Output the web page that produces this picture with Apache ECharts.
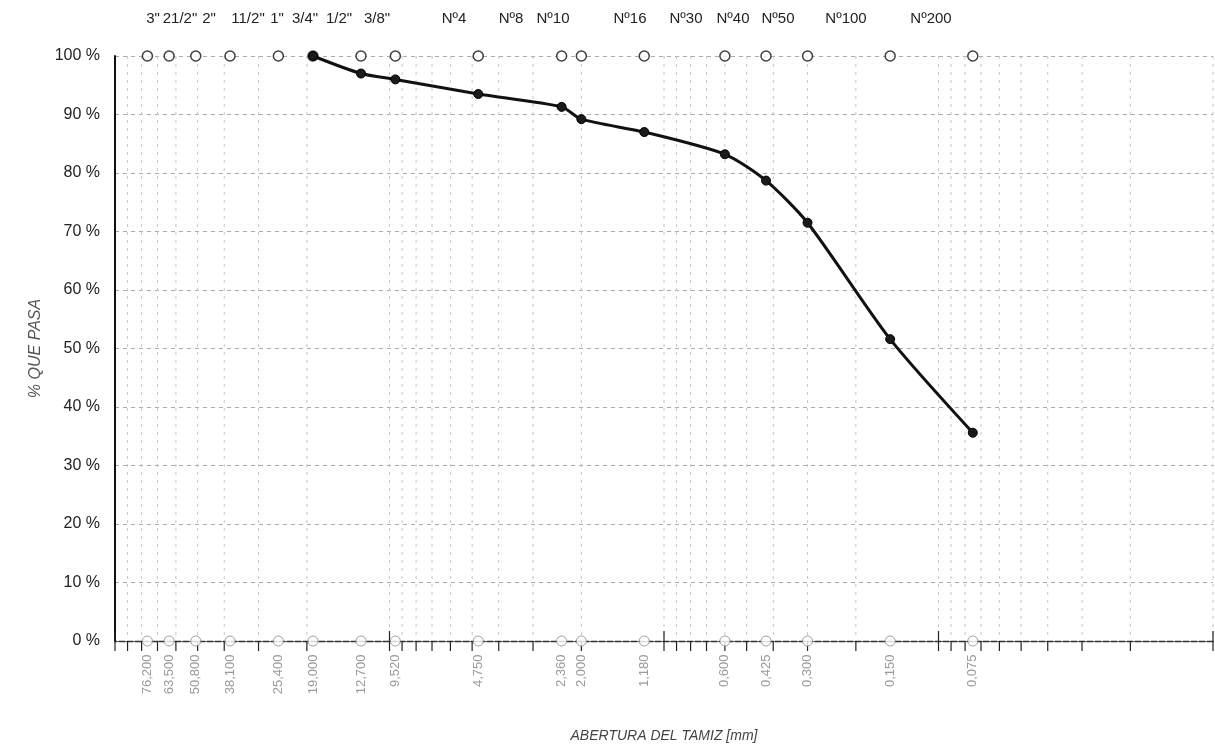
<!DOCTYPE html>
<html><head><meta charset="utf-8">
<script src="https://cdn.jsdelivr.net/npm/echarts@6/dist/echarts.min.js"></script>
<style>html,body{margin:0;padding:0;background:#fff}#c{width:1215px;height:748px}</style>
</head><body><div id="c"></div>
<script>
// ---- data ----
const sieveNames = ['3"','21/2"','2"','11/2"','1"','3/4"','1/2"','3/8"','Nº4','Nº8','Nº10','Nº16','Nº30','Nº40','Nº50','Nº100','Nº200'];
const sieveMm = [76.2,63.5,50.8,38.1,25.4,19.0,12.7,9.52,4.75,2.36,2.0,1.18,0.6,0.425,0.3,0.15,0.075];
const sieveLabels = ['76,200','63,500','50,800','38,100','25,400','19,000','12,700','9,520','4,750','2,360','2,000','1,180','0,600','0,425','0,300','0,150','0,075'];
const passMm = [19.0,12.7,9.52,4.75,2.36,2.0,1.18,0.6,0.425,0.3,0.15,0.075];
const passPct = [100,97.0,96.0,93.5,91.3,89.2,87.0,83.2,78.7,71.5,51.6,35.6];
const gridMm = [100,90,80,70,60,50,40,30,20,10,9,8,7,6,5,4,3,2,1,0.9,0.8,0.7,0.6,0.5,0.4,0.3,0.2,0.1,0.09,0.08,0.07,0.06,0.05,0.04,0.03,0.02,0.01];
const decadeMm = [100,10,1,0.1,0.01];
// header text layout (pixel centres of the sieve-name header row)
const headerX = [153,180,209,248,277,305,339,377,454,511,553,630,686,733,778,846,931];

const FONT = '"Liberation Sans", Arial, sans-serif';
const chart = echarts.init(document.getElementById('c'), null, {renderer:'canvas'});

const option = {
  animation: false,
  backgroundColor: '#fff',
  textStyle: {fontFamily: FONT},
  grid: {left: 115, right: 2, top: 56, bottom: 107, containLabel: false},
  xAxis: {
    type: 'log', logBase: 10, min: 0.01, max: 100, inverse: true,
    name: 'ABERTURA DEL TAMIZ [mm]', nameLocation: 'middle', nameGap: 88,
    nameTextStyle: {fontStyle: 'italic', fontSize: 14, color: '#444', fontFamily: FONT},
    axisLine: {onZero: false, lineStyle: {color: '#333', width: 1.3, type: [6, 2]}},
    axisTick: {show: false}, axisLabel: {show: false}, splitLine: {show: false}
  },
  yAxis: {
    type: 'value', min: 0, max: 100, interval: 10,
    name: '% QUE PASA', nameLocation: 'middle', nameGap: 66,
    nameTextStyle: {fontStyle: 'italic', fontSize: 16, color: '#555', fontFamily: FONT},
    axisLine: {show: true, onZero: false, lineStyle: {color: '#111', width: 2}},
    axisTick: {show: false},
    axisLabel: {formatter: '{value} %', fontSize: 16, color: '#222', margin: 15, fontFamily: FONT},
    splitLine: {show: true, lineStyle: {color: '#ababab', width: 1, type: [4, 4]}}
  },
  graphic: sieveNames.map((t, i) => ({
    type: 'text', x: headerX[i], y: 19,
    style: {text: t, fill: '#222', font: '15px ' + FONT, align: 'center', verticalAlign: 'middle'}
  })),
  series: [
    {
      type: 'custom', silent: true, clip: false, z: 1,
      data: gridMm.map(v => [v, 0]),
      renderItem: function (params, api) {
        const x = api.value(0);
        const top = api.coord([x, 100]);
        const bot = api.coord([x, 0]);
        const major = decadeMm.indexOf(x) >= 0;
        const ch = [];
        if (x !== 100) {
          ch.push({type: 'line', shape: {x1: top[0], y1: top[1], x2: bot[0], y2: bot[1]},
            style: {stroke: '#c6c6c6', lineWidth: 1, lineDash: [3, 5]}});
        }
        ch.push({type: 'line', shape: {x1: bot[0], y1: bot[1] - (major ? 10 : 0), x2: bot[0], y2: bot[1] + 10},
          style: {stroke: '#222', lineWidth: 1.2}});
        return {type: 'group', children: ch};
      }
    },
    {
      type: 'scatter', clip: false, z: 3, silent: true,
      data: sieveMm.map(v => [v, 100]),
      symbol: 'circle', symbolSize: 10,
      itemStyle: {color: '#fff', borderColor: '#111', borderWidth: 1.5}
    },
    {
      type: 'scatter', clip: false, z: 3, silent: true,
      data: sieveMm.map(v => [v, 0]),
      symbol: 'circle', symbolSize: 10,
      itemStyle: {color: '#fff', borderColor: '#888', borderWidth: 1},
      label: {
        show: true, position: 'bottom', distance: 8, rotate: 90,
        align: 'right', verticalAlign: 'middle',
        formatter: p => sieveLabels[p.dataIndex],
        fontSize: 13, color: '#808080', fontFamily: FONT
      }
    },
    {
      type: 'line', clip: false, z: 5, silent: true,
      data: passMm.map((v, i) => [v, passPct[i]]),
      smooth: 0.25,
      lineStyle: {color: '#111', width: 3},
      symbol: 'circle', symbolSize: 9,
      itemStyle: {color: '#1a1a1a', borderColor: '#000', borderWidth: 1}
    }
  ]
};
chart.setOption(option);
</script>
</body></html>
